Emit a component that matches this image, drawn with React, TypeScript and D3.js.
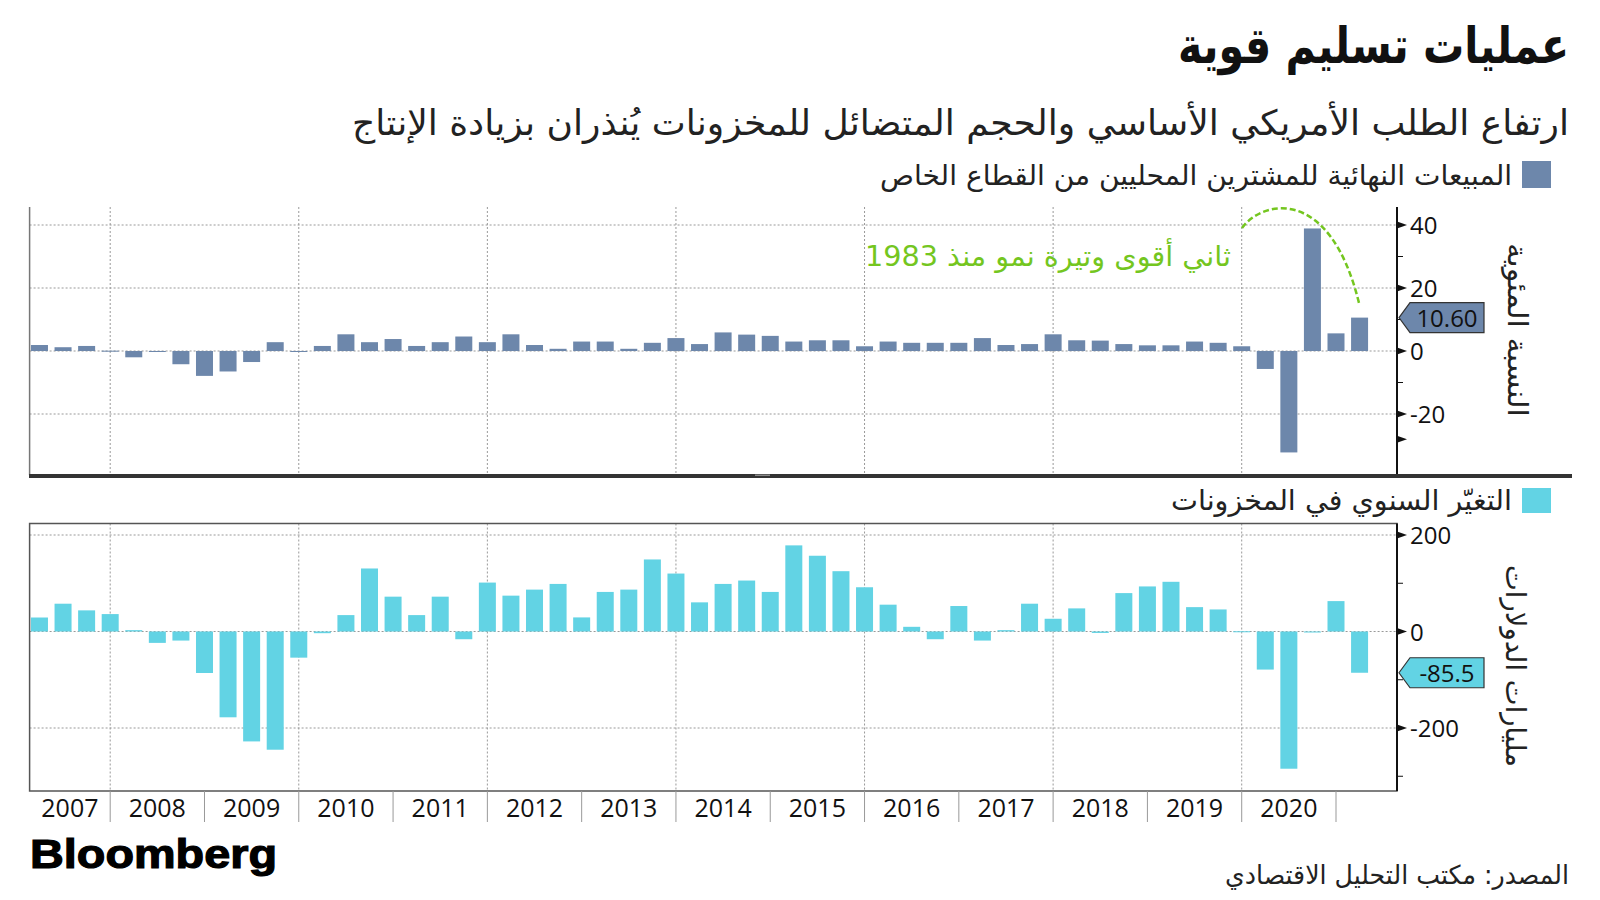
import React from "react";
import * as d3 from "d3";

// ---------- data ----------
const years = [2007, 2008, 2009, 2010, 2011, 2012, 2013, 2014, 2015, 2016, 2017, 2018, 2019, 2020];
const quarters = [
  ...years.flatMap((y) => [1, 2, 3, 4].map((q) => `${y}Q${q}`)),
  "2021Q1",
];

// Final sales to private domestic purchasers (% change, annualized)
const finalSales = [
  1.9, 1.2, 1.6, 0.1,
  -2.0, -0.2, -4.2, -7.9,
  -6.5, -3.5, 2.8, -0.1,
  1.6, 5.3, 2.8, 3.8,
  1.6, 2.8, 4.6, 2.8,
  5.3, 1.9, 0.7, 3.0,
  3.0, 0.7, 2.6, 4.1,
  2.2, 5.9, 5.2, 4.8,
  3.0, 3.4, 3.4, 1.5,
  3.0, 2.6, 2.6, 2.6,
  4.1, 1.9, 2.2, 5.3,
  3.4, 3.3, 2.2, 1.8,
  1.8, 3.0, 2.6, 1.5,
  -5.7, -32.2, 38.9, 5.6,
  10.6,
];

// Change in private inventories (billions of dollars)
const inventories = [
  29, 57.6, 43.8, 36.1,
  2.8, -23.6, -18.8, -86,
  -177.8, -227.8, -245, -54.2,
  -3.5, 34, 130.6, 72.2,
  34, 72.2, -16, 101.4,
  74.3, 86.8, 98.6, 29.2,
  82, 86.8, 149.3, 120.1,
  60.4, 98.6, 105.6, 82,
  178.5, 157, 125, 91.7,
  55.6, 9.7, -16, 52.8,
  -18.8, 2.8, 57.6, 26.4,
  47.9, -3, 79.6, 93.4,
  103, 50.5, 45.7, 0.5,
  -78.9, -284.4, -1, 63,
  -85.5,
];

const topTicks = [40, 20, 0, -20];
const topMinorTicks = [30, 10, -10];
const topExtraArrow = [-28];
const bottomTicks = [200, 0, -200];
const bottomMinorTicks = [100, -100, -300];
const gridYears = [2008, 2010, 2012, 2014, 2016, 2018, 2020];
const separatorYears = [2008, 2009, 2010, 2011, 2012, 2013, 2014, 2015, 2016, 2017, 2018, 2019, 2020, 2021];

const lastTop = "10.60";
const lastBottom = "-85.5";

// ---------- styles ----------
const TOP_COLOR = "#6d87ab";
const BOTTOM_COLOR = "#62d3e4";
const GREEN = "#74c61f";
const AR = "'DejaVu Sans', sans-serif";
const NUM = "'Open Sans', 'DejaVu Sans', sans-serif";

const L = 29.6;
const R = 1397;
const TOP_Y0 = 207;
const TOP_Y1 = 475;
const BOT_Y0 = 523.5;
const BOT_Y1 = 791;

function ArText(props: any) {
  const { x, y, width, size, children, bold, fill, transform, anchor } = props;
  return (
    <text
      x={x}
      y={y}
      transform={transform}
      direction="rtl"
      textAnchor={anchor || "start"}
      fontFamily={AR}
      fontWeight={bold ? "bold" : "normal"}
      fontSize={size}
      fill={fill || "#222"}
      textLength={width}
      lengthAdjust="spacingAndGlyphs"
    >
      {children}
    </text>
  );
}

export default function App() {
  const x = d3.scaleLinear().domain([2007, 2021]).range([15.9, 1336]);
  const qPos = (i: number) => x(2007 + (i + 1) / 4);
  const barW = 17;

  const yTop = d3.scaleLinear().domain([0, 40]).range([351, 225]);
  const yBot = d3.scaleLinear().domain([-200, 200]).range([728, 535]);

  const grid = (y0: number, y1: number, ys: number[], yScale: (v: number) => number) => (
    <g>
      {ys.map((v) => (
        <line key={"h" + v} x1={L} x2={R} y1={yScale(v)} y2={yScale(v)} stroke="#999" strokeWidth={1} strokeDasharray="2,2" />
      ))}
      {gridYears.map((yr) => (
        <line key={"v" + yr} x1={x(yr)} x2={x(yr)} y1={y0} y2={y1} stroke="#999" strokeWidth={1} strokeDasharray="2,2" />
      ))}
    </g>
  );

  const arrow = (yy: number, key: string) => (
    <path key={key} d={`M${R},${yy - 3.5} L${R + 10},${yy} L${R},${yy + 3.5} Z`} fill="#111" />
  );

  const valueLabel = (yy: number, text: string, fill: string) => (
    <g>
      <path
        d={`M${R + 2},${yy} L${R + 13},${yy - 15} L1484,${yy - 15} L1484,${yy + 15} L${R + 13},${yy + 15} Z`}
        fill={fill}
        stroke="#333"
        strokeWidth={1.2}
      />
      <text x={1447} y={yy + 9} textAnchor="middle" fontFamily={NUM} fontSize={24} fill="#111">
        {text}
      </text>
    </g>
  );

  return (
    <svg width={1600} height={900} style={{ position: "absolute", left: 0, top: 0, background: "#fff" }}>
      <rect x={0} y={0} width={1600} height={900} fill="#fff" />

      {/* Titles */}
      <ArText x={1569} y={63} width={391} size={50} bold fill="#111">عمليات تسليم قوية</ArText>
      <ArText x={1569} y={135} width={1217} size={35}>
        ارتفاع الطلب الأمريكي الأساسي والحجم المتضائل للمخزونات يُنذران بزيادة الإنتاج
      </ArText>

      {/* Legend 1 */}
      <rect x={1522} y={161} width={29} height={27} fill={TOP_COLOR} />
      <ArText x={1512} y={185} width={632} size={28}>المبيعات النهائية للمشترين المحليين من القطاع الخاص</ArText>

      {/* Top chart */}
      {grid(TOP_Y0, TOP_Y1, topTicks, yTop)}
      {finalSales.map((v, i) => (
        <rect key={quarters[i]} x={qPos(i) - barW / 2} width={barW}
          y={Math.min(yTop(v), yTop(0))} height={Math.max(1, Math.abs(yTop(v) - yTop(0)))} fill={TOP_COLOR} />
      ))}
      <line x1={L} x2={L} y1={TOP_Y0} y2={TOP_Y1} stroke="#777" strokeWidth={1.5} />
      <line x1={R} x2={R} y1={TOP_Y0} y2={TOP_Y1} stroke="#111" strokeWidth={2} />
      {topMinorTicks.map((v) => (
        <line key={"tm" + v} x1={R} x2={R + 6} y1={yTop(v)} y2={yTop(v)} stroke="#111" strokeWidth={1} />
      ))}
      {topTicks.map((v) => arrow(yTop(v), "ta" + v))}
      {topExtraArrow.map((v) => arrow(yTop(v), "tx" + v))}
      {topTicks.map((v) => (
        <text key={"tl" + v} x={R + 13} y={yTop(v) + 9} fontFamily={NUM} fontSize={24} fill="#111">{v}</text>
      ))}
      {valueLabel(yTop(finalSales[finalSales.length - 1]), lastTop, TOP_COLOR)}
      <ArText transform="translate(1508,330) rotate(90)" x={0} y={0} anchor="middle" width={174} size={28}>
        النسبة المئوية
      </ArText>

      {/* Annotation */}
      <ArText x={1231} y={266} width={366} size={28} fill={GREEN}>ثاني أقوى وتيرة نمو منذ 1983</ArText>
      <path d="M1242,228 C1262,200 1330,185 1359,303" fill="none" stroke={GREEN} strokeWidth={2.5} strokeDasharray="6,3" />

      {/* Divider */}
      <rect x={29} y={474} width={1543} height={4} fill="#333" />
      <rect x={755} y={474.5} width={15} height={1.5} fill="#888" />

      {/* Legend 2 */}
      <rect x={1522} y={488} width={29} height={25} fill={BOTTOM_COLOR} />
      <ArText x={1512} y={510} width={341} size={28}>التغيّر السنوي في المخزونات</ArText>

      {/* Bottom chart */}
      {grid(BOT_Y0, BOT_Y1, bottomTicks, yBot)}
      {inventories.map((v, i) => (
        <rect key={"b" + quarters[i]} x={qPos(i) - barW / 2} width={barW}
          y={Math.min(yBot(v), yBot(0))} height={Math.max(1, Math.abs(yBot(v) - yBot(0)))} fill={BOTTOM_COLOR} />
      ))}
      <rect x={L} y={BOT_Y0} width={R - L} height={BOT_Y1 - BOT_Y0} fill="none" stroke="#555" strokeWidth={1.5} />
      <line x1={R} x2={R} y1={BOT_Y0} y2={BOT_Y1} stroke="#111" strokeWidth={2} />
      {bottomMinorTicks.map((v) => (
        <line key={"bm" + v} x1={R} x2={R + 6} y1={yBot(v)} y2={yBot(v)} stroke="#111" strokeWidth={1} />
      ))}
      {bottomTicks.map((v) => arrow(yBot(v), "ba" + v))}
      {bottomTicks.map((v) => (
        <text key={"bl" + v} x={R + 13} y={yBot(v) + 9} fontFamily={NUM} fontSize={24} fill="#111">{v}</text>
      ))}
      {valueLabel(yBot(inventories[inventories.length - 1]), lastBottom, BOTTOM_COLOR)}
      <ArText transform="translate(1506,666) rotate(90)" x={0} y={0} anchor="middle" width={202} size={28}>
        مليارات الدولارات
      </ArText>

      {/* X axis */}
      {separatorYears.map((yr) => (
        <line key={"s" + yr} x1={x(yr)} x2={x(yr)} y1={BOT_Y1} y2={822} stroke="#999" strokeWidth={1} />
      ))}
      {years.map((yr) => {
        const a = Math.max(L, x(yr));
        const b = x(yr + 1);
        return (
          <text key={"y" + yr} x={(a + b) / 2} y={817} textAnchor="middle" fontFamily={NUM} fontSize={25} fill="#111">
            {yr}
          </text>
        );
      })}

      {/* Footer */}
      <text x={30} y={868} fontFamily="'Liberation Sans', Arial, sans-serif" fontWeight="bold" fontSize={41} fill="#000"
        stroke="#000" strokeWidth={1.2} textLength={247} lengthAdjust="spacingAndGlyphs">
        Bloomberg
      </text>
      <ArText x={1569} y={884} width={344} size={26}>المصدر: مكتب التحليل الاقتصادي</ArText>
    </svg>
  );
}
